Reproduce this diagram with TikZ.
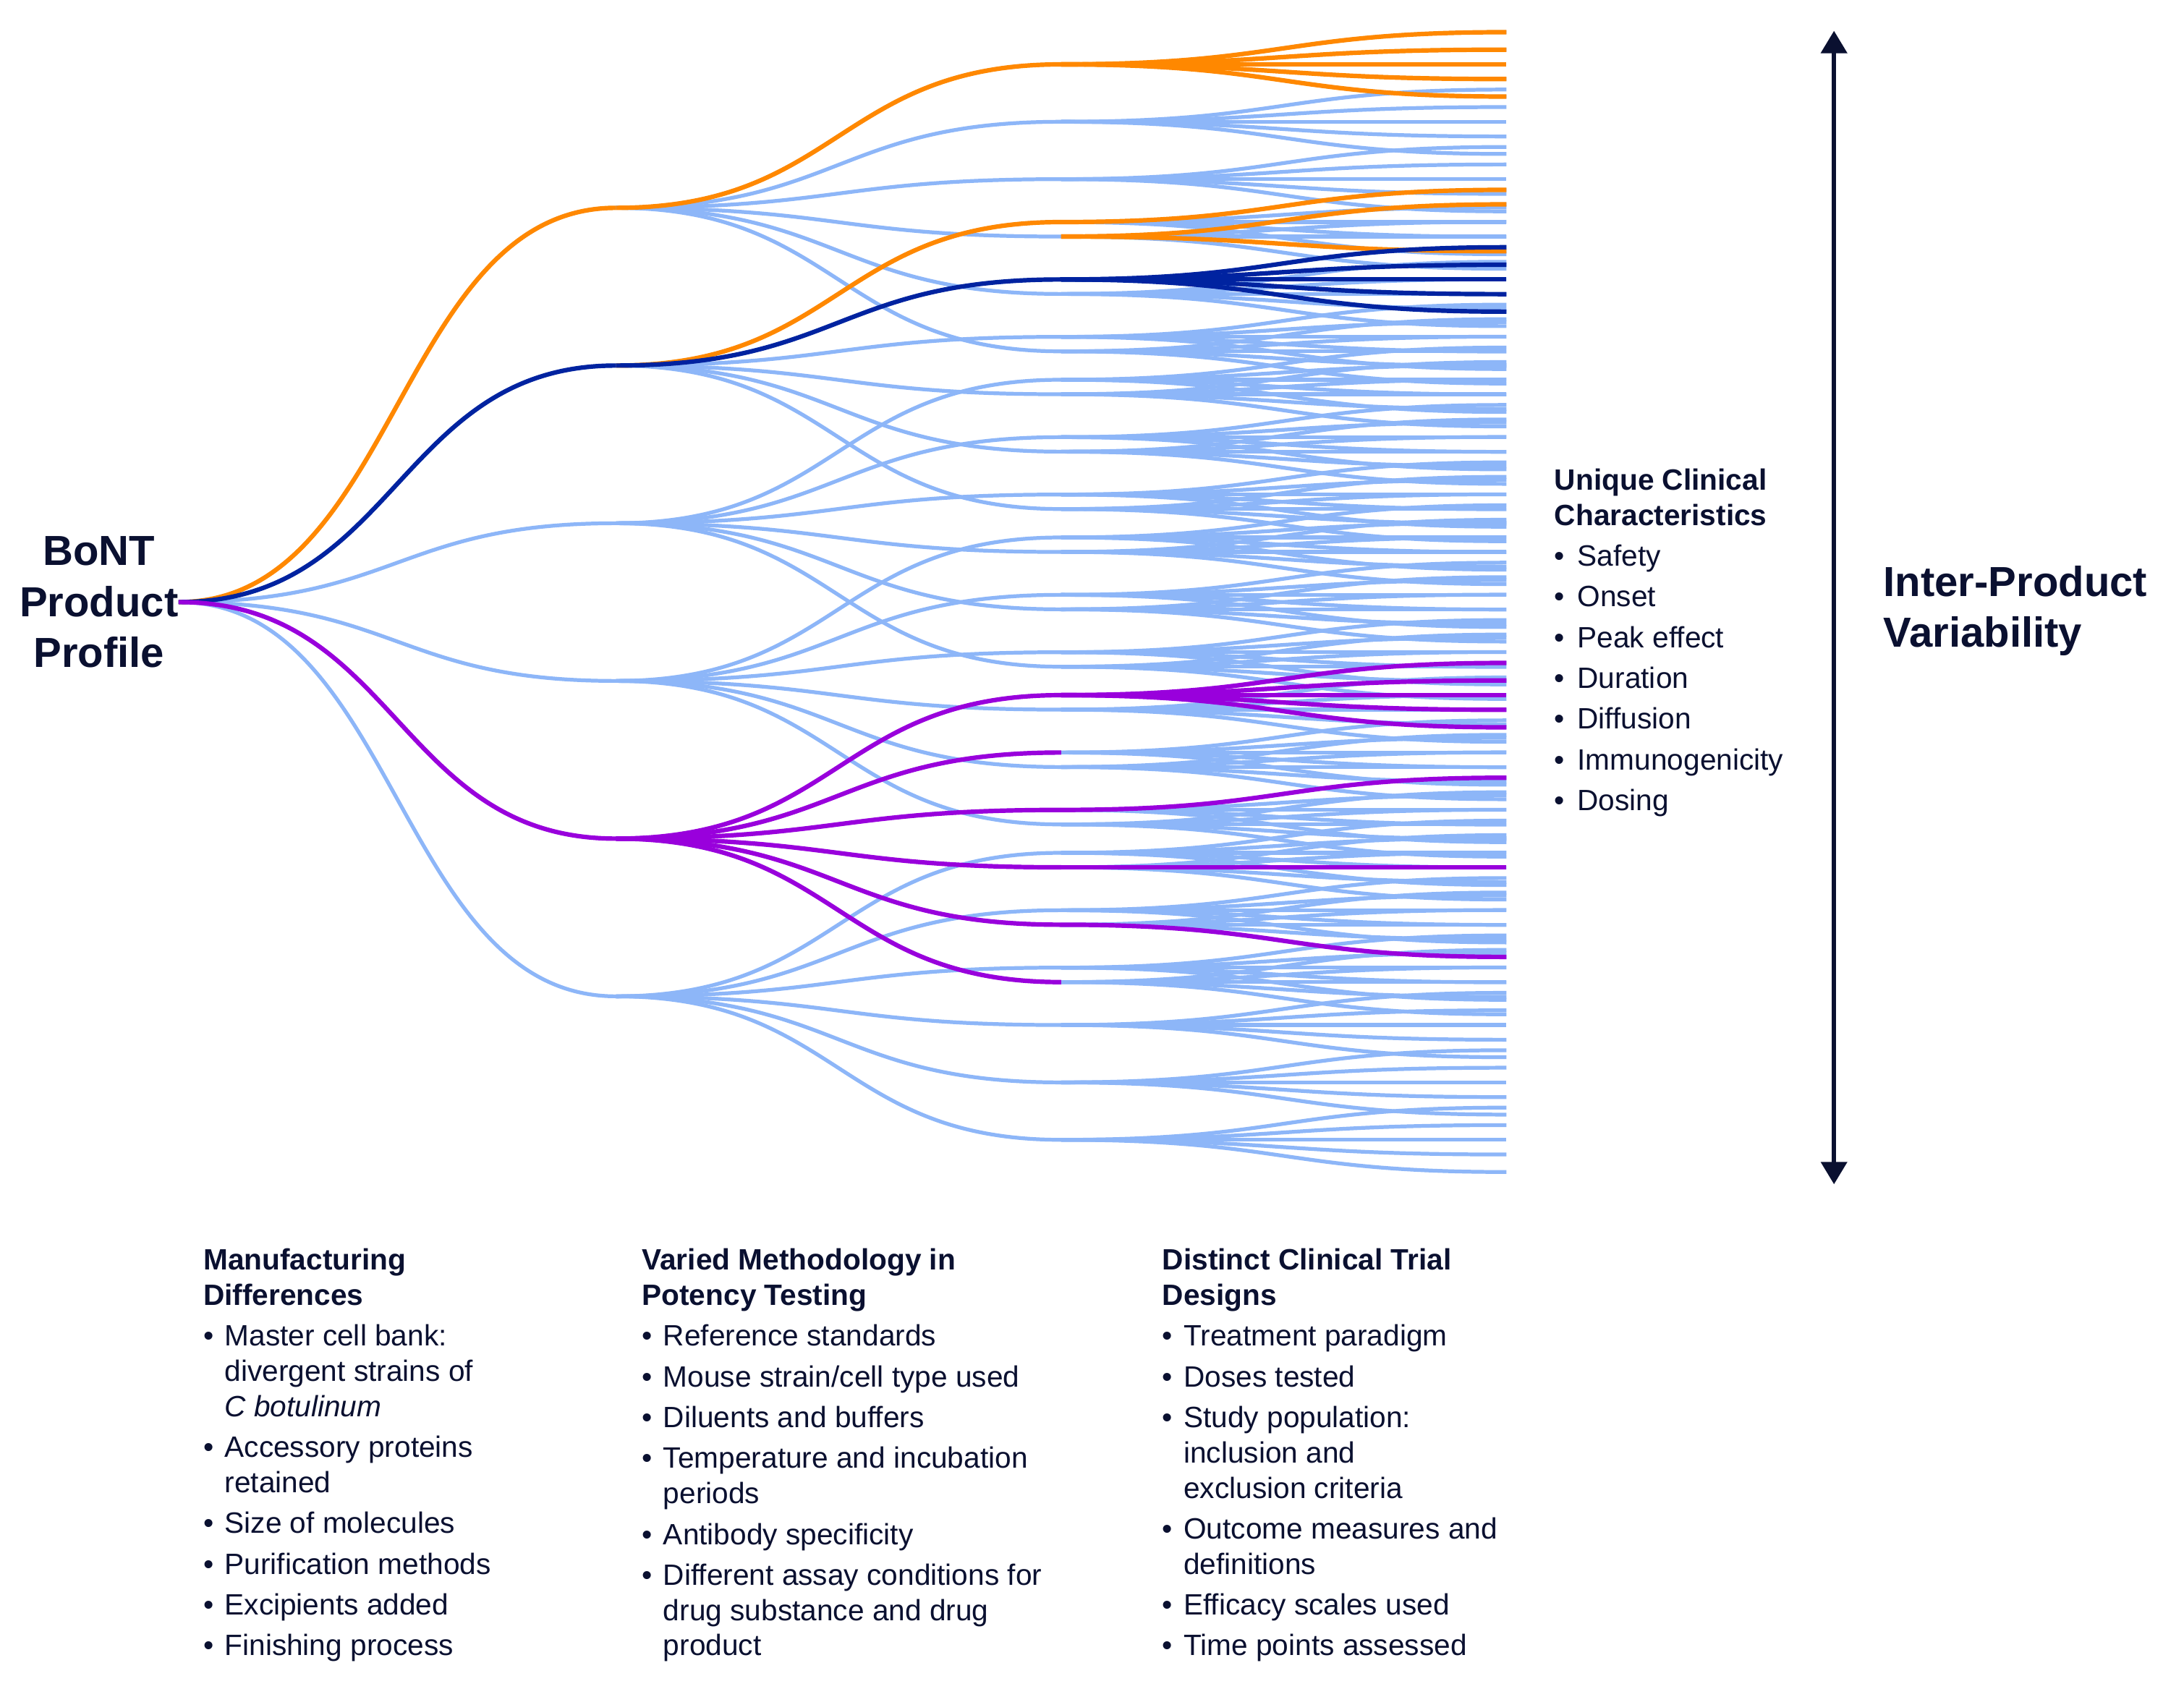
\documentclass[tikz,border=0pt]{standalone}
\usepackage{fontspec}
\setmainfont{Liberation Sans}
\usetikzlibrary{arrows.meta}
\definecolor{lb}{RGB}{141,182,248}
\definecolor{orng}{RGB}{255,136,0}
\definecolor{dblue}{RGB}{0,35,160}
\definecolor{purp}{RGB}{153,0,220}
\definecolor{navy}{RGB}{10,16,48}
\newlength{\bind}\setlength{\bind}{7.6pt}
\newcommand{\hdl}[1]{\hbox{\bfseries #1}}
\newcommand{\itm}[1]{\vskip1.95pt\hbox{\makebox[\bind][l]{\textbullet}#1}}
\newcommand{\cnt}[1]{\hbox{\hskip\bind #1}}
\newcommand{\blk}[1]{\vtop{\fontsize{10.5}{12.6}\selectfont #1}}
\begin{document}
\begin{tikzpicture}[x=0.5pt,y=-0.5pt,
  br/.style={line width=1.35pt, draw=lb},
  hl/.style={line width=1.6pt},
  sig/.style={to path={.. controls +(#1,0) and +(-#1,0) .. (\tikztotarget)}},
  txt/.style={inner sep=0pt, anchor=base west, text=navy}]
\useasboundingbox[fill=white] (0,0) rectangle (1560,1206.5);
% ---- tree coordinates
\coordinate (R) at (127.6,430.1);
\foreach \i in {0,...,5}{
  \pgfmathsetmacro{\ya}{430.1+(\i-2.5)*112.65}
  \coordinate (L\i) at (440,\ya);
  \foreach \o [count=\j from 0] in {-102.5,-61.5,-20.5,20.5,61.5,102.5}{
    \pgfmathsetmacro{\yb}{\ya+\o}
    \coordinate (M\i-\j) at (758,\yb);
    \foreach \p [count=\k from 0] in {-23,-10.5,0,10.5,23}{
      \pgfmathsetmacro{\yc}{\yb+\p}
      \coordinate (F\i-\j-\k) at (1076,\yc);
    }
  }
}
% ---- light blue branches
\foreach \i in {0,...,5}{
  \draw[br,sig=156] (R) to (L\i);
  \foreach \j in {0,...,5}{
    \draw[br,sig=159] (L\i) to (M\i-\j);
    \foreach \k in {0,...,4}{
      \draw[br,sig=159] (M\i-\j) to (F\i-\j-\k);
    }
  }
}
% ---- orange
\draw[hl,draw=orng,sig=156] (R) to (L0);
\draw[hl,draw=orng,sig=159] (L0) to (M0-0);
\foreach \k in {0,...,4}{\draw[hl,draw=orng,sig=159] (M0-0) to (F0-0-\k);}
\draw[hl,draw=orng,sig=159] (L1) to (M1-0);
\draw[hl,draw=orng,sig=159] (M1-0) to (F1-0-0);
\draw[hl,draw=orng,sig=159] (M0-3) to (F0-3-0);
\draw[hl,draw=orng,sig=159] (M0-3) to (F0-3-3);
% ---- dark blue
\draw[hl,draw=dblue,sig=156] (R) to (L1);
\draw[hl,draw=dblue,sig=159] (L1) to (M1-1);
\foreach \k in {0,...,4}{\draw[hl,draw=dblue,sig=159] (M1-1) to (F1-1-\k);}
% ---- purple
\draw[hl,draw=purp,sig=156] (R) to (L4);
\foreach \j in {0,...,5}{\draw[hl,draw=purp,sig=159] (L4) to (M4-\j);}
\foreach \k in {0,...,4}{\draw[hl,draw=purp,sig=159] (M4-0) to (F4-0-\k);}
\draw[hl,draw=purp,sig=159] (M4-2) to (F4-2-0);
\draw[hl,draw=purp,sig=159] (M4-3) to (F4-3-2);
\draw[hl,draw=purp,sig=159] (M4-4) to (F4-4-4);
% ---- variability arrow
\coordinate (at) at (1310,22);
\coordinate (ab) at (1310,846);
\draw[navy, line width=1.45pt, {Triangle[length=8pt,width=9.2pt]}-{Triangle[length=8pt,width=9.2pt]}] (at) -- (ab);
% ---- texts
\node[inner sep=0pt, anchor=base, text=navy] (bont) at (70.7,404)
  {\vtop{\fontsize{15}{18.2}\selectfont\bfseries\halign{\hfil#\hfil\cr BoNT\cr Product\cr Profile\cr}}};
\node[txt] (ipv) at (1345,425.8)
  {\vtop{\fontsize{15}{18.3}\selectfont\bfseries\hbox{Inter-Product}\hbox{Variability}}};
\node[txt] (ucc) at (1110,350.1)
  {\setlength{\bind}{8.2pt}\blk{\hdl{Unique Clinical}\hdl{Characteristics}\itm{Safety}\itm{Onset}\itm{Peak effect}\itm{Duration}\itm{Diffusion}\itm{Immunogenicity}\itm{Dosing}}};
\node[txt] (man) at (144.9,907.3)
  {\blk{\hdl{Manufacturing}\hdl{Differences}\itm{Master cell bank:}\cnt{divergent strains of}\cnt{\itshape C botulinum}\itm{Accessory proteins}\cnt{retained}\itm{Size of molecules}\itm{Purification methods}\itm{Excipients added}\itm{Finishing process}}};
\node[txt] (pot) at (458.2,907.3)
  {\blk{\hdl{Varied Methodology in}\hdl{Potency Testing}\itm{Reference standards}\itm{Mouse strain/cell type used}\itm{Diluents and buffers}\itm{Temperature and incubation}\cnt{periods}\itm{Antibody specificity}\itm{Different assay conditions for}\cnt{drug substance and drug}\cnt{product}}};
\node[txt] (ctd) at (829.9,907.3)
  {\blk{\hdl{Distinct Clinical Trial}\hdl{Designs}\itm{Treatment paradigm}\itm{Doses tested}\itm{Study population:}\cnt{inclusion and}\cnt{exclusion criteria}\itm{Outcome measures and}\cnt{definitions}\itm{Efficacy scales used}\itm{Time points assessed}}};
\end{tikzpicture}
\end{document}
